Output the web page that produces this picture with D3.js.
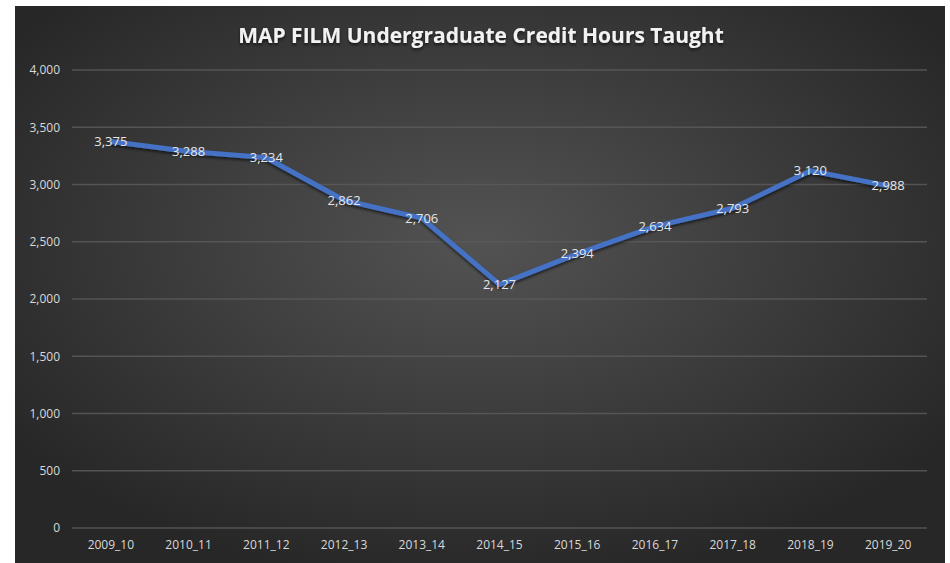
<!DOCTYPE html>
<html>
<head>
<meta charset="utf-8">
<script src="https://cdn.jsdelivr.net/npm/d3@7"></script>
<style>
  body { margin: 0; background: #fff; }
  svg { display: block; }
</style>
</head>
<body>
<div id="chart"></div>
<script>
(function () {
    "use strict";

    // values
    var years = ["2009_10", "2010_11", "2011_12", "2012_13", "2013_14", "2014_15",
                 "2015_16", "2016_17", "2017_18", "2018_19", "2019_20"];
    var hours = [3375, 3288, 3234, 2862, 2706, 2127, 2394, 2634, 2793, 3120, 2988];
    var yTicks = [0, 500, 1000, 1500, 2000, 2500, 3000, 3500, 4000];

    var W = 950, H = 563;
    var panel = { x: 15, y: 6, w: 930, h: 557 };
    var plot = { left: 72, right: 927, top: 70, bottom: 528 };

    var svg = d3.select("#chart").append("svg")
        .attr("width", W)
        .attr("height", H);

    var defs = svg.append("defs");
    var grad = defs.append("radialGradient")
        .attr("id", "bg")
        .attr("cx", "50%").attr("cy", "42%").attr("r", "62%");
    grad.append("stop").attr("offset", "0%").attr("stop-color", "#535353");
    grad.append("stop").attr("offset", "100%").attr("stop-color", "#272727");

    var shadow = defs.append("filter").attr("id", "shadow")
        .attr("x", "-10%").attr("y", "-10%").attr("width", "120%").attr("height", "130%");
    shadow.append("feDropShadow")
        .attr("dx", 0).attr("dy", 2).attr("stdDeviation", 1.5)
        .attr("flood-color", "#000").attr("flood-opacity", 0.6);

    // dark panel
    svg.append("rect")
        .attr("x", panel.x).attr("y", panel.y)
        .attr("width", panel.w).attr("height", panel.h)
        .attr("fill", "url(#bg)");

    var x = d3.scaleBand()
        .domain(years)
        .range([plot.left, plot.right]);

    var y = d3.scaleLinear()
        .domain([0, 4000])
        .range([plot.bottom, plot.top]);

    var fmt = d3.format(",");

    // gridlines
    svg.append("g").selectAll("line")
        .data(yTicks)
        .enter()
        .append("line")
        .attr("x1", plot.left).attr("x2", plot.right)
        .attr("y1", function (d) { return y(d); })
        .attr("y2", function (d) { return y(d); })
        .attr("stroke", "#5a5a5a")
        .attr("stroke-opacity", 0.85)
        .attr("stroke-width", 1.5);

    // y axis labels
    var yAxis = d3.axisLeft(y).tickValues(yTicks).tickFormat(fmt).tickSize(0).tickPadding(12);
    var gy = svg.append("g")
        .attr("transform", "translate(" + plot.left + ",0)")
        .call(yAxis);
    gy.select(".domain").remove();
    gy.selectAll("text")
        .attr("fill", "#d9d9d9")
        .style("font-family", "'Open Sans', sans-serif")
        .style("font-size", "12px");

    // x axis labels
    var xAxis = d3.axisBottom(x).tickSize(0).tickPadding(12);
    var gx = svg.append("g")
        .attr("transform", "translate(0," + plot.bottom + ")")
        .call(xAxis);
    gx.select(".domain").remove();
    gx.selectAll("text")
        .attr("fill", "#d9d9d9")
        .style("font-family", "'Open Sans', sans-serif")
        .style("font-size", "12px");

    // line
    var line = d3.line()
        .x(function (d, i) { return x(years[i]) + x.bandwidth() / 2; })
        .y(function (d) { return y(d); });

    svg.append("path")
        .datum(hours)
        .attr("d", line)
        .attr("fill", "none")
        .attr("stroke", "#4472c4")
        .attr("stroke-width", 5)
        .attr("stroke-linejoin", "round")
        .attr("filter", "url(#shadow)");

    // data labels
    svg.append("g").selectAll("text")
        .data(hours)
        .enter()
        .append("text")
        .attr("x", function (d, i) { return x(years[i]) + x.bandwidth() / 2; })
        .attr("y", function (d) { return y(d); })
        .attr("dy", "0.35em")
        .attr("text-anchor", "middle")
        .attr("fill", "#e6e6e6")
        .style("font-family", "'Open Sans', sans-serif")
        .style("font-size", "13px")
        .text(function (d) { return fmt(d); });

    // title
    svg.append("text")
        .attr("x", 481)
        .attr("y", 43)
        .attr("text-anchor", "middle")
        .attr("fill", "#f2f2f2")
        .attr("filter", "url(#shadow)")
        .style("font-family", "'Open Sans', sans-serif")
        .style("font-weight", "bold")
        .style("font-size", "21px")
        .text("MAP FILM Undergraduate Credit Hours Taught");
})();
</script>
</body>
</html>
